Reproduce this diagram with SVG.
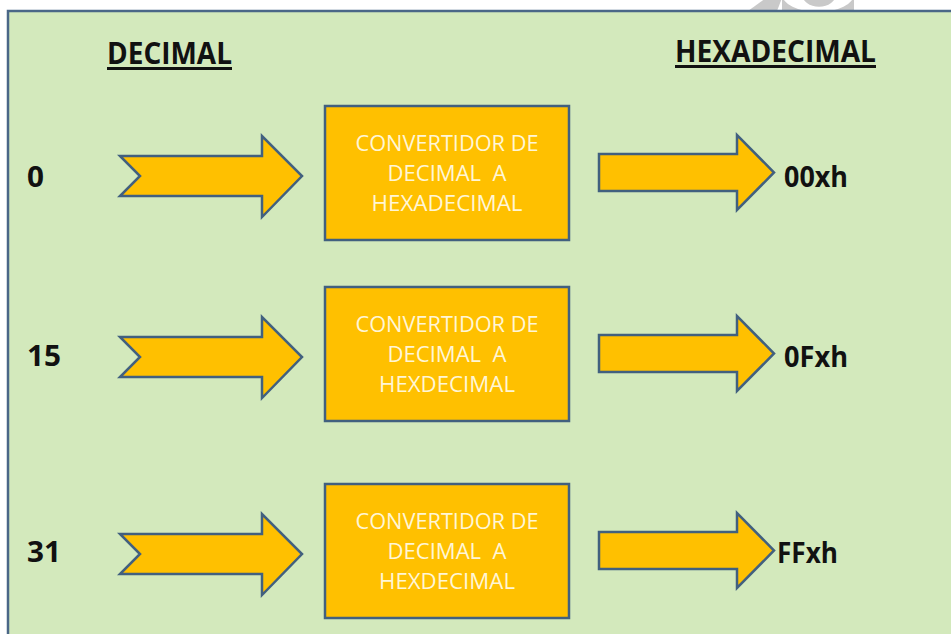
<svg xmlns="http://www.w3.org/2000/svg" width="951" height="634" viewBox="0 0 951 634">
  <defs>
    <style>
      .panel { fill: #d3e9bc; stroke: #4a6787; stroke-width: 2.5; }
      .arrow { fill: #ffc000; stroke: #41607f; stroke-width: 2.5; stroke-linejoin: miter; }
      .box { fill: #ffc000; stroke: #41607f; stroke-width: 2.5; }
      .boxtext { font-family: "Open Sans", "Liberation Sans", sans-serif; font-size: 21px; fill: #fff6d6; text-anchor: middle; white-space: pre; }
      .label { font-family: "Open Sans", "Liberation Sans", sans-serif; font-weight: bold; font-size: 29px; fill: #111111; }
      .title { font-family: "Open Sans", "Liberation Sans", sans-serif; font-weight: bold; font-size: 31px; fill: #111111; }
      .uline { stroke: #111111; stroke-width: 3; }
      .mark { fill: #c9c9c9; }
    </style>
    <!-- notched input arrow, drawn at row origin -->
    <polygon id="inArrow" class="arrow" points="120,156 262,156 262,136 302,176 262,217 262,196 120,196 140,176"/>
    <!-- block output arrow -->
    <polygon id="outArrow" class="arrow" points="599,154 737,154 737,135 774,172.5 737,210 737,191 599,191"/>
  </defs>

  <!-- background -->
  <rect width="951" height="634" fill="#ffffff"/>
  <g id="watermark">
    <path class="mark" d="M748,11 L766,-2 L782,-2 L777,11 Z"/>
    <path class="mark" d="M782,-6 A36,18 0 0 0 854,-6 L854,11 L782,11 Z M802,-6 A16,12 0 0 0 836,-6 Z" fill-rule="evenodd"/>
  </g>
  <rect class="panel" x="8" y="11" width="960" height="640"/>

  <!-- headings -->
  <g id="heading-decimal">
    <text class="title" x="107" y="64" textLength="125" lengthAdjust="spacingAndGlyphs">DECIMAL</text>
    <line class="uline" x1="107" y1="68.5" x2="232" y2="68.5"/>
  </g>
  <g id="heading-hex">
    <text class="title" x="675" y="62" textLength="201" lengthAdjust="spacingAndGlyphs">HEXADECIMAL</text>
    <line class="uline" x1="675" y1="66.5" x2="876" y2="66.5"/>
  </g>

  <!-- row 1 -->
  <g id="in-0">
    <text class="label" x="27" y="187" textLength="17" lengthAdjust="spacingAndGlyphs">0</text>
  </g>
  <g id="conv-1">
    <rect class="box" x="325" y="106" width="244" height="134"/>
    <text class="boxtext" x="447" y="151" textLength="183" lengthAdjust="spacingAndGlyphs">CONVERTIDOR DE</text>
    <text class="boxtext" x="447" y="181" xml:space="preserve" textLength="119" lengthAdjust="spacingAndGlyphs">DECIMAL  A</text>
    <text class="boxtext" x="447" y="211" textLength="151" lengthAdjust="spacingAndGlyphs">HEXADECIMAL</text>
  </g>
  <g id="out-00xh">
    <text class="label" x="784" y="187" textLength="64" lengthAdjust="spacingAndGlyphs">00xh</text>
  </g>

  <!-- row 2 -->
  <g id="in-15">
    <text class="label" x="27" y="366" textLength="34" lengthAdjust="spacingAndGlyphs">15</text>
  </g>
  <g id="conv-2">
    <rect class="box" x="325" y="287" width="244" height="134"/>
    <text class="boxtext" x="447" y="332" textLength="183" lengthAdjust="spacingAndGlyphs">CONVERTIDOR DE</text>
    <text class="boxtext" x="447" y="362" xml:space="preserve" textLength="119" lengthAdjust="spacingAndGlyphs">DECIMAL  A</text>
    <text class="boxtext" x="447" y="392" textLength="136" lengthAdjust="spacingAndGlyphs">HEXDECIMAL</text>
  </g>
  <g id="out-0Fxh">
    <text class="label" x="784" y="367" textLength="64" lengthAdjust="spacingAndGlyphs">0Fxh</text>
  </g>

  <!-- row 3 -->
  <g id="in-31">
    <text class="label" x="27" y="562" textLength="34" lengthAdjust="spacingAndGlyphs">31</text>
  </g>
  <g id="conv-3">
    <rect class="box" x="325" y="484" width="244" height="134"/>
    <text class="boxtext" x="447" y="529" textLength="183" lengthAdjust="spacingAndGlyphs">CONVERTIDOR DE</text>
    <text class="boxtext" x="447" y="559" xml:space="preserve" textLength="119" lengthAdjust="spacingAndGlyphs">DECIMAL  A</text>
    <text class="boxtext" x="447" y="589" textLength="136" lengthAdjust="spacingAndGlyphs">HEXDECIMAL</text>
  </g>
  <g id="out-FFxh">
    <text class="label" x="777" y="563" textLength="61" lengthAdjust="spacingAndGlyphs">FFxh</text>
  </g>

  <!-- connectors -->
  <g id="connectors">
    <use href="#inArrow"/>
    <use href="#inArrow" transform="translate(0,181)"/>
    <use href="#inArrow" transform="translate(0,378)"/>
    <use href="#outArrow"/>
    <use href="#outArrow" transform="translate(0,181)"/>
    <use href="#outArrow" transform="translate(0,378)"/>
  </g>
</svg>
